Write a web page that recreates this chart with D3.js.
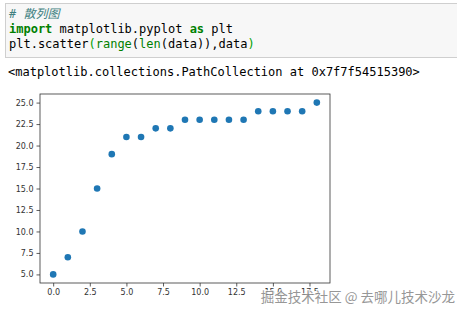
<!DOCTYPE html>
<html><head><meta charset="utf-8">
<script src="https://cdn.jsdelivr.net/npm/d3@7"></script>
<style>
html,body{margin:0;padding:0;background:#fff;overflow:hidden;}
svg{display:block;}
</style></head>
<body>
<svg id="c" width="457" height="312"></svg>
<script>
const xValues = [0,1,2,3,4,5,6,7,8,9,10,11,12,13,14,15,16,17,18];
const data = [5,7,10,15,19,21,21,22,22,23,23,23,23,23,24,24,24,24,25];
const xTicks = [0,2.5,5,7.5,10,12.5,15,17.5];
const yTicks = [5,7.5,10,12.5,15,17.5,20,22.5,25];

const svg = d3.select("#c");
const mono = "'DejaVu Sans Mono', 'Liberation Mono', monospace";

// code cell
svg.append("rect").attr("x",5.5).attr("y",3.5).attr("width",460).attr("height",54)
  .attr("fill","#f7f7f7").attr("stroke","#cfcfcf");
const codeLines = [
  [["# ","#408080","italic","normal"],["散列图","#408080","italic","normal"]],
  [["import","#008000","normal","bold"],[" matplotlib.pyplot ","#000","normal","normal"],["as","#008000","normal","bold"],[" plt","#000","normal","normal"]],
  [["plt.scatter","#000","normal","normal"],["(","#00a000","normal","normal"],["range","#008000","normal","normal"],["(","#000","normal","normal"],["len","#008000","normal","normal"],["(data)),data","#000","normal","normal"],[")","#00a000","normal","normal"]]
];
codeLines.forEach((ln,i)=>{
  const t = svg.append("text").attr("x",9).attr("y",18+i*15)
    .attr("font-family",mono).attr("font-size",12).attr("xml:space","preserve");
  ln.forEach(s=>{
    t.append("tspan").text(s[0]).attr("fill",s[1]).attr("font-style",s[2]).attr("font-weight",s[3])
     .attr("font-family", /[\u4e00-\u9fff]/.test(s[0]) ? "'Noto Sans CJK SC', sans-serif" : mono);
  });
});
svg.append("text").attr("x",8).attr("y",76).attr("font-family",mono).attr("font-size",12)
  .attr("fill","#000").text("<matplotlib.collections.PathCollection at 0x7f7f54515390>");

// plot
const x = d3.scaleLinear().domain([-0.9,18.9]).range([40,330]);
const y = d3.scaleLinear().domain([4,26]).range([283,94]);
const font = "'DejaVu Sans', sans-serif";

const xAxis = svg.append("g").attr("transform","translate(0,283)")
  .call(d3.axisBottom(x).tickValues(xTicks).tickFormat(d3.format(".1f")).tickSize(3.5).tickPadding(3));
const yAxis = svg.append("g").attr("transform","translate(40,0)")
  .call(d3.axisLeft(y).tickValues(yTicks).tickFormat(d3.format(".1f")).tickSize(3.5).tickPadding(3));
[xAxis,yAxis].forEach(a=>{
  a.select(".domain").remove();
  a.selectAll("line").attr("stroke","#333").attr("stroke-width",0.8);
  a.selectAll("text").attr("font-family",font).attr("font-size",8).attr("fill","#333");
});

svg.append("rect").attr("x",40).attr("y",94).attr("width",290).attr("height",189)
  .attr("fill","none").attr("stroke","#333").attr("stroke-width",0.8);

svg.append("g").selectAll("circle").data(data).join("circle")
  .attr("cx",(d,i)=>x(xValues[i])).attr("cy",d=>y(d)).attr("r",3.3).attr("fill","#1f77b4");

// watermark
svg.append("text").attr("x",455).attr("y",302).attr("text-anchor","end")
  .attr("font-family","'Noto Sans CJK SC', sans-serif").attr("font-size",13.5)
  .attr("fill","#8c8c8c").attr("stroke","#fff").attr("stroke-width",1.5).attr("paint-order","stroke")
  .attr("opacity",0.9)
  .text("掘金技术社区 @ 去哪儿技术沙龙");
</script>
</body></html>
